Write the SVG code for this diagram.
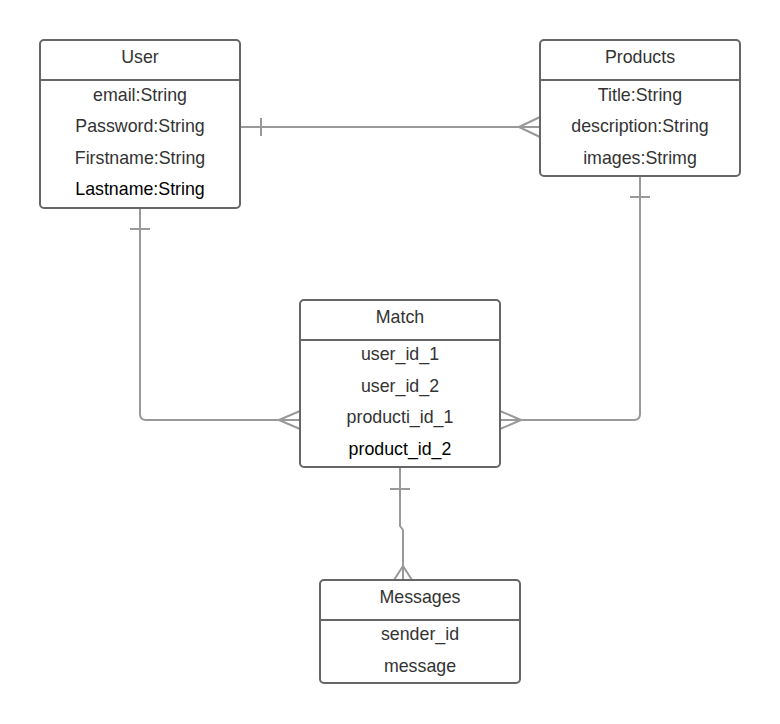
<svg xmlns="http://www.w3.org/2000/svg" width="780" height="724" viewBox="0 0 780 724">
<style>
.box{fill:#fff;stroke:#666;stroke-width:2}
.div{stroke:#666;stroke-width:2}
.t{font-family:"Liberation Sans",Arial,sans-serif;font-size:17.8px;fill:#333;text-anchor:middle}
.k{fill:#000}
.c{fill:none;stroke:#999;stroke-width:2;stroke-linejoin:round}
</style>
<rect width="780" height="724" fill="#fff"/>
<g id="connectors">
<path class="c" d="M240,127 H540 M261,118 V136 M519,127 L540,117 M519,127 L540,137"/>
<path class="c" d="M140,208 V414 Q140,420 146,420 H300 M130,229 H150 M279,420 L300,411 M279,420 L300,429"/>
<path class="c" d="M640,176 V414 Q640,420 634,420 H500 M630,197 H650 M521,420 L500,411 M521,420 L500,429"/>
<path class="c" d="M400,467 V526 L403,530 V580 M390,489 H410 M403,566 L394,580 M403,566 L412,580"/>
</g>
<g id="user">
<rect class="box" x="40" y="40" width="200" height="168" rx="4"/>
<line class="div" x1="40" y1="80" x2="240" y2="80"/>
<text class="t" x="140" y="63">User</text>
<text class="t" x="140" y="101">email:String</text>
<text class="t" x="140" y="132">Password:String</text>
<text class="t" x="140" y="164">Firstname:String</text>
<text class="t k" x="140" y="195">Lastname:String</text>
</g>
<g id="products">
<rect class="box" x="540" y="40" width="200" height="136" rx="4"/>
<line class="div" x1="540" y1="80" x2="740" y2="80"/>
<text class="t" x="640" y="63">Products</text>
<text class="t" x="640" y="101">Title:String</text>
<text class="t" x="640" y="132">description:String</text>
<text class="t" x="640" y="164">images:Strimg</text>
</g>
<g id="match">
<rect class="box" x="300" y="300" width="200" height="167" rx="4"/>
<line class="div" x1="300" y1="340" x2="500" y2="340"/>
<text class="t" x="400" y="323">Match</text>
<text class="t" x="400" y="360">user_id_1</text>
<text class="t" x="400" y="392">user_id_2</text>
<text class="t" x="400" y="423">producti_id_1</text>
<text class="t k" x="400" y="455">product_id_2</text>
</g>
<g id="messages">
<rect class="box" x="320" y="580" width="200" height="103" rx="4"/>
<line class="div" x1="320" y1="620" x2="520" y2="620"/>
<text class="t" x="420" y="603">Messages</text>
<text class="t" x="420" y="640">sender_id</text>
<text class="t" x="420" y="672">message</text>
</g>
</svg>
